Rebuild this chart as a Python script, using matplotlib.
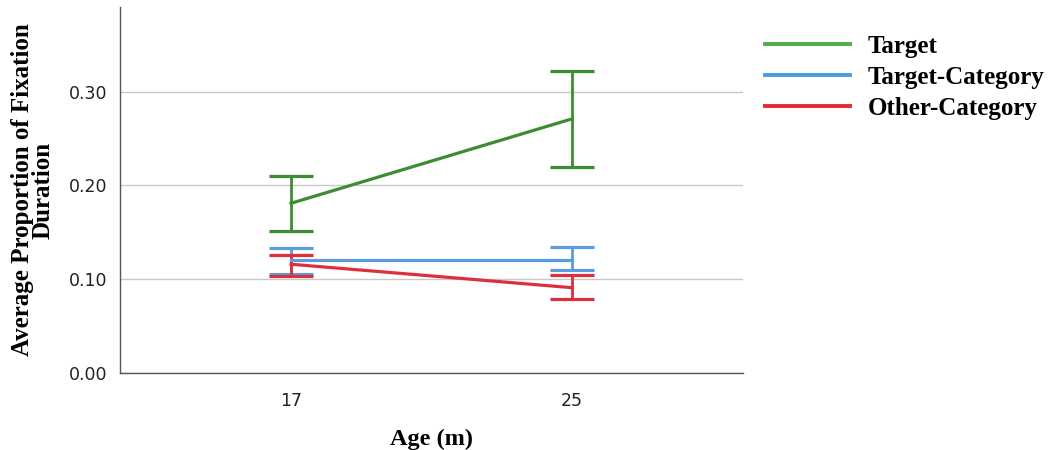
import matplotlib
matplotlib.use('Agg')
import matplotlib.pyplot as plt
from matplotlib.lines import Line2D
import numpy as np

# data
ages = ['17', '25']
series = ['Target', 'Target-Category', 'Other-Category']
means = {
    'Target': [0.181, 0.271],
    'Target-Category': [0.121, 0.121],
    'Other-Category': [0.116, 0.091],
}
upper = {
    'Target': [0.210, 0.322],
    'Target-Category': [0.133, 0.134],
    'Other-Category': [0.126, 0.104],
}
lower = {
    'Target': [0.151, 0.220],
    'Target-Category': [0.106, 0.110],
    'Other-Category': [0.103, 0.079],
}

line_colors = {'Target': '#3c8c32', 'Target-Category': '#5b9be0', 'Other-Category': '#de2f3c'}
legend_colors = {'Target': '#4caf47', 'Target-Category': '#4a9be0', 'Other-Category': '#e8282e'}

SERIF = 'Liberation Serif'

fig = plt.figure(figsize=(10.5, 4.5), dpi=100)
ax = fig.add_axes([0.114, 0.171, 0.594, 0.813])

x = np.arange(len(ages))
for s in series:
    m = np.array(means[s])
    err = np.vstack([m - np.array(lower[s]), np.array(upper[s]) - m])
    ax.errorbar(x, m, yerr=err, color=line_colors[s], lw=2.3, elinewidth=2.0,
                capsize=16, capthick=2.3, zorder=3)

ax.set_xlim(-0.61, 1.61)
ax.set_ylim(0, 0.39)
ax.set_xticks(x)
ax.set_xticklabels(ages)
ax.set_yticks([0.0, 0.1, 0.2, 0.3])
ax.set_yticklabels(['0.00', '0.10', '0.20', '0.30'])
ax.tick_params(length=0, labelsize=12.5, colors='#222222', pad=9)
ax.tick_params(axis='x', pad=14)
ax.yaxis.grid(True, color='#c8c8c8', lw=1.0)
ax.set_axisbelow(True)
for side in ['top', 'right']:
    ax.spines[side].set_visible(False)
for side in ['left', 'bottom']:
    ax.spines[side].set_color('#555555')
    ax.spines[side].set_linewidth(1.0)

ax.set_xlabel('Age (m)', fontsize=17.5, fontweight='bold', family=SERIF, labelpad=13)
ax.set_ylabel('Average Proportion of Fixation\nDuration', fontsize=18, fontweight='bold',
              family=SERIF, labelpad=10, linespacing=0.9)

handles = [Line2D([0], [0], color=legend_colors[s], lw=2.8) for s in series]
fig.legend(handles, series, loc='upper left', bbox_to_anchor=(0.712, 0.962),
           frameon=False, handlelength=3.4, handletextpad=0.7, labelspacing=0.32,
           borderpad=0.2, prop={'family': SERIF, 'weight': 'bold', 'size': 18})

fig.savefig('out.png', dpi=100)
